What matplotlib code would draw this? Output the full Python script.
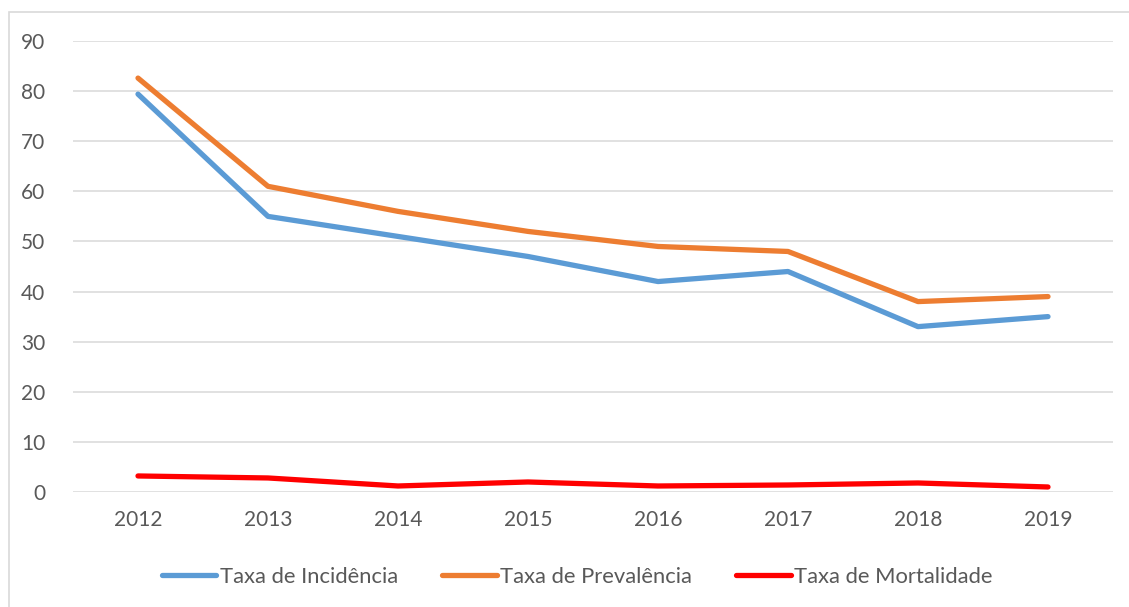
import matplotlib.pyplot as plt
from matplotlib.patches import Rectangle

# dados
anos = ["2012", "2013", "2014", "2015", "2016", "2017", "2018", "2019"]
incidencia = [79.4, 55, 51, 47, 42, 44, 33, 35]
prevalencia = [82.6, 61, 56, 52, 49, 48, 38, 39]
mortalidade = [3.2, 2.8, 1.2, 2.0, 1.2, 1.4, 1.8, 1.0]

plt.rcParams['font.family'] = ['Lato', 'DejaVu Sans']
cor_texto = '#595959'

fig = plt.figure(figsize=(11.29, 6.07), dpi=100)
ax = fig.add_axes([73/1129, 1 - 492/607, (1113 - 73)/1129, (492 - 41)/607])

x = list(range(len(anos)))
ax.plot(x, incidencia, color='#5B9BD5', lw=3.8, solid_capstyle='round', label='Taxa de Incidência')
ax.plot(x, prevalencia, color='#ED7D31', lw=3.8, solid_capstyle='round', label='Taxa de Prevalência')
ax.plot(x, mortalidade, color='#FF0000', lw=3.8, solid_capstyle='round', label='Taxa de Mortalidade')

ax.set_xlim(-0.5, len(anos) - 0.5)
ax.set_ylim(0, 90)
ax.set_yticks(range(0, 91, 10))
ax.set_xticks(x)
ax.set_xticklabels(anos)
ax.grid(axis='y', color='#D9D9D9', lw=1.1)
ax.set_axisbelow(True)
for s in ax.spines.values():
    s.set_visible(False)
ax.tick_params(length=0, labelsize=15, colors=cor_texto)
ax.tick_params(axis='y', pad=20)
ax.tick_params(axis='x', pad=13)

leg = fig.legend(loc='center', bbox_to_anchor=(577/1129, 1 - 577/607), ncol=3, frameon=False,
                 fontsize=15.8, handlelength=2.5, handletextpad=0.15, columnspacing=2.0)
for t in leg.get_texts():
    t.set_color(cor_texto)

# moldura do grafico
fig.patches.append(Rectangle((9/1129, -0.1), 1.2, 1 - 12/607 + 0.1, transform=fig.transFigure,
                             fill=False, edgecolor='#D9D9D9', lw=1.2))

fig.savefig('out.png', dpi=100)
